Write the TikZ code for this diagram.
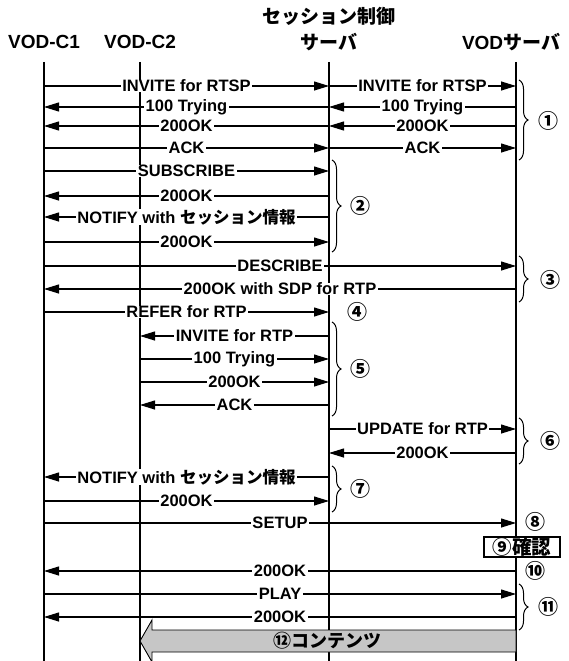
\documentclass[tikz,border=0pt]{standalone}
\usepackage{fontspec}
\setmainfont{Liberation Sans}
\newfontfamily\jp{Noto Sans CJK JP}
\usetikzlibrary{arrows.meta,decorations.pathreplacing,calc}
\begin{document}
\begin{tikzpicture}[x=1pt,y=-1pt,
  life/.style={line width=1.1pt},
  msg/.style={line width=1.1pt,-{Triangle[length=15pt,width=9pt]}},
  lbl/.style={fill=white,inner xsep=1.5pt,inner ysep=0pt,font=\bfseries\fontsize{16.5}{16.5}\selectfont},
  hdr/.style={font=\fontsize{19}{19}\selectfont\bfseries},
  num/.style={font=\jp\bfseries\fontsize{20}{20}\selectfont,inner sep=0pt},
  brc/.style={decorate,decoration={brace,amplitude=9pt},line width=1pt},
  fat/.style={draw,line width=0.9pt,fill=gray!45},
  chk/.style={draw,line width=1.2pt,fill=white,minimum width=76pt,minimum height=20pt,inner sep=0pt,font=\jp\bfseries\fontsize{19.5}{19.5}\selectfont}
]
\useasboundingbox (0,0) rectangle (569,661);
% headers
\node[hdr] (hS1) at (329,16) {\jp セッション制御};
\node[hdr] (hS2) at (329,42) {\jp サーバ};
\node[hdr] (hC1) at (44,42) {VOD-C1};
\node[hdr] (hC2) at (140,42) {VOD-C2};
\node[hdr] (hV) at (511,42) {VOD{\jp サーバ}};
% lifelines
\coordinate (C1) at (44,62);
\coordinate (C2) at (140,62);
\coordinate (S) at (329,62);
\coordinate (V) at (516,62);
\coordinate (C1b) at (44,661);
\coordinate (C2b) at (140,661);
\coordinate (Sb) at (329,661);
\coordinate (Vb) at (516,661);
\draw[life] (C1) -- (C1b);
\draw[life] (C2) -- (C2b);
\draw[life] (S) -- (Sb);
\draw[life] (V) -- (Vb);
% messages
\newcommand\mymsg[4]{\draw[msg] (#1 |- 0,#3) -- node[lbl]{#4} (#2 |- 0,#3);}
\mymsg{C1}{S}{86}{INVITE for RTSP}
\mymsg{S}{V}{86}{INVITE for RTSP}
\mymsg{S}{C1}{107}{100 Trying}
\mymsg{V}{S}{107}{100 Trying}
\mymsg{S}{C1}{126}{200OK}
\mymsg{V}{S}{126}{200OK}
\mymsg{C1}{S}{148}{ACK}
\mymsg{S}{V}{148}{ACK}
\mymsg{C1}{S}{171}{SUBSCRIBE}
\mymsg{S}{C1}{196}{200OK}
\mymsg{S}{C1}{217}{NOTIFY with {\jp セッション情報}}
\mymsg{C1}{S}{242}{200OK}
\mymsg{C1}{V}{266}{DESCRIBE}
\mymsg{V}{C1}{289}{200OK with SDP for RTP}
\mymsg{C1}{S}{312}{REFER for RTP}
\mymsg{S}{C2}{336}{INVITE for RTP}
\mymsg{C2}{S}{359}{100 Trying}
\mymsg{C2}{S}{382}{200OK}
\mymsg{S}{C2}{405}{ACK}
\mymsg{S}{V}{429}{UPDATE for RTP}
\mymsg{V}{S}{453}{200OK}
\mymsg{S}{C1}{477}{NOTIFY with {\jp セッション情報}}
\mymsg{C1}{S}{501}{200OK}
\mymsg{C1}{V}{523}{SETUP}
\mymsg{V}{C1}{571}{200OK}
\mymsg{C1}{V}{594}{PLAY}
\mymsg{V}{C1}{617}{200OK}
% braces
\draw[brc] ($(V |- 0,80)+(3,0)$) -- ($(V |- 0,160)+(3,0)$);
\draw[brc] ($(S |- 0,160)+(3,0)$) -- ($(S |- 0,252)+(3,0)$);
\draw[brc] ($(V |- 0,256)+(3,0)$) -- ($(V |- 0,302)+(3,0)$);
\draw[brc] ($(S |- 0,322)+(3,0)$) -- ($(S |- 0,416)+(3,0)$);
\draw[brc] ($(V |- 0,418)+(3,0)$) -- ($(V |- 0,464)+(3,0)$);
\draw[brc] ($(S |- 0,466)+(3,0)$) -- ($(S |- 0,512)+(3,0)$);
\draw[brc] ($(V |- 0,584)+(3,0)$) -- ($(V |- 0,630)+(3,0)$);
\node[num] (n1) at (548,121) {①};
\node[num] (n2) at (360,206) {②};
\node[num] (n3) at (550,280) {③};
\node[num] (n4) at (357,312) {④};
\node[num] (n5) at (360,369) {⑤};
\node[num] (n6) at (550,441) {⑥};
\node[num] (n7) at (360,489) {⑦};
\node[num] (n8) at (535,522) {⑧};
\node[num] (n10) at (535,571) {⑩};
\node[num] (n11) at (548,607) {⑪};
% confirm box
\node[chk] (chk) at (522,547) {⑨確認};
% content fat arrow
\coordinate (fa) at (V |- 0,641);
\coordinate (fb) at (C2 |- 0,641);
\draw[fat] ($(fa)+(0,-11)$) -- ($(fb)+(12,-11)$) -- ($(fb)+(12,-21)$) -- (fb) -- ($(fb)+(12,21)$) -- ($(fb)+(12,11)$) -- ($(fa)+(0,11)$) -- cycle;
\node[font=\jp\bfseries\fontsize{18}{18}\selectfont,inner sep=0pt] (cont) at (327,641) {⑫コンテンツ};
\end{tikzpicture}
\end{document}
